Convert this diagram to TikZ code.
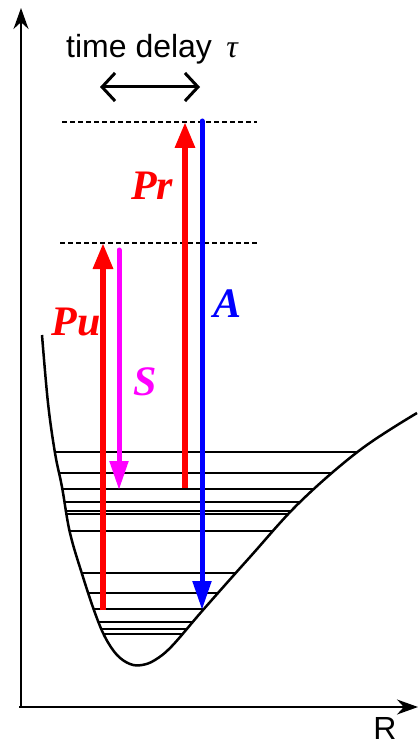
\documentclass[tikz,border=0pt]{standalone}
\usepackage{fontspec}
\setmainfont{Liberation Sans}
\newfontfamily\labelfont{Liberation Serif}
\usepackage{tikz}
\usetikzlibrary{arrows.meta,positioning}
\definecolor{pumpred}{HTML}{FF0000}
\definecolor{dumpmag}{HTML}{FF00FF}
\definecolor{probeblue}{HTML}{0000FF}
\tikzset{
  axisline/.style={line width=2pt, -{Stealth[length=21pt,width=15pt]}},
  potcurve/.style={line width=2.5pt, line join=round},
  vlevel/.style={line width=1.1pt},
  vlevel thick/.style={line width=2pt},
  virtlevel/.style={line width=1.5pt, dash pattern=on 5pt off 3pt},
  beamarrow/.style={line width=6pt, color=#1,
    -{Triangle[length=26pt,width=19pt]}},
  beamarrow/.default=pumpred,
  emitarrow/.style={line width=5pt, color=#1, line cap=round,
    -{Triangle[length=29pt,width=18pt]}},
  beamlabel/.style={text=#1, font=\labelfont\bfseries\itshape\fontsize{42}{46}\selectfont,
    inner sep=0pt, anchor=base},
  delayarrow/.style={line width=3pt,
    {Straight Barb[length=13pt,width=28pt]}-{Straight Barb[length=13pt,width=28pt]}},
}

\begin{document}
\begin{tikzpicture}[x=1pt, y=-1pt]
    \useasboundingbox (0,0) rectangle (419,746);
    % axes
    \coordinate (origin) at (21,707);
    \coordinate (etop) at (21,8);
    \coordinate (rend) at (418,707);
    \draw[axisline] (origin) -- (etop);
    \draw[axisline] (19,707) -- (rend);
    \node[font=\fontsize{32}{36}\selectfont, inner sep=0pt, anchor=base] (rlabel) at (385,739) {R};
    % time delay
    \node[font=\fontsize{32}{36}\selectfont, inner sep=0pt, anchor=base west] (delay) at (66,58)
      {time delay\hspace{0.45em}{\labelfont\itshape τ}};
    \coordinate (dl) at (100,87);
    \coordinate (dr) at (200,87);
    \draw[delayarrow] (dl) -- (dr);
    % virtual levels
    \draw[virtlevel] (62,122) -- (257,122);
    \draw[virtlevel] (60,243) -- (257,243);
    % vibrational levels, clipped by the potential well
    \def\wellpath{(42,335) (48,403) (55,453) (62,487) (70,533) (83,577) (95,613)
      (105,637) (117,655) (130,664) (142,665) (155,660) (172,646) (203,610)
      (250,557) (300,502) (360,450) (417,413)}
    \begin{scope}
      \clip plot[smooth, tension=0.6] coordinates {\wellpath} -- cycle;
      \foreach \ly in {452,473,502,511,514,531,573,593,622,629,634}
        \draw[vlevel] (0,\ly) -- (419,\ly);
      \foreach \ly in {489,609}
        \draw[vlevel thick] (0,\ly) -- (419,\ly);
    \end{scope}
    \draw[potcurve] plot[smooth, tension=0.6] coordinates {\wellpath};
    % transitions
    \coordinate (pu0) at (103,610);
    \coordinate (pu1) at (103,243);
    \coordinate (s0) at (119,250);
    \coordinate (s1) at (119,490);
    \coordinate (pr0) at (185,488);
    \coordinate (pr1) at (185,122);
    \coordinate (a0) at (202,121);
    \coordinate (a1) at (202,610);
    \draw[beamarrow] (pu0) -- (pu1);
    \draw[emitarrow=dumpmag] (s0) -- (s1);
    \draw[beamarrow] (pr0) -- (pr1);
    \draw[emitarrow=probeblue] (a0) -- (a1);
    \node[beamlabel=pumpred] (pulabel) at (76,335) {Pu};
    \node[beamlabel=dumpmag] (slabel) at (145,395) {S};
    \node[beamlabel=pumpred] (prlabel) at (152,200) {Pr};
    \node[beamlabel=probeblue] (alabel) at (228,317) {A};
\end{tikzpicture}
\end{document}
